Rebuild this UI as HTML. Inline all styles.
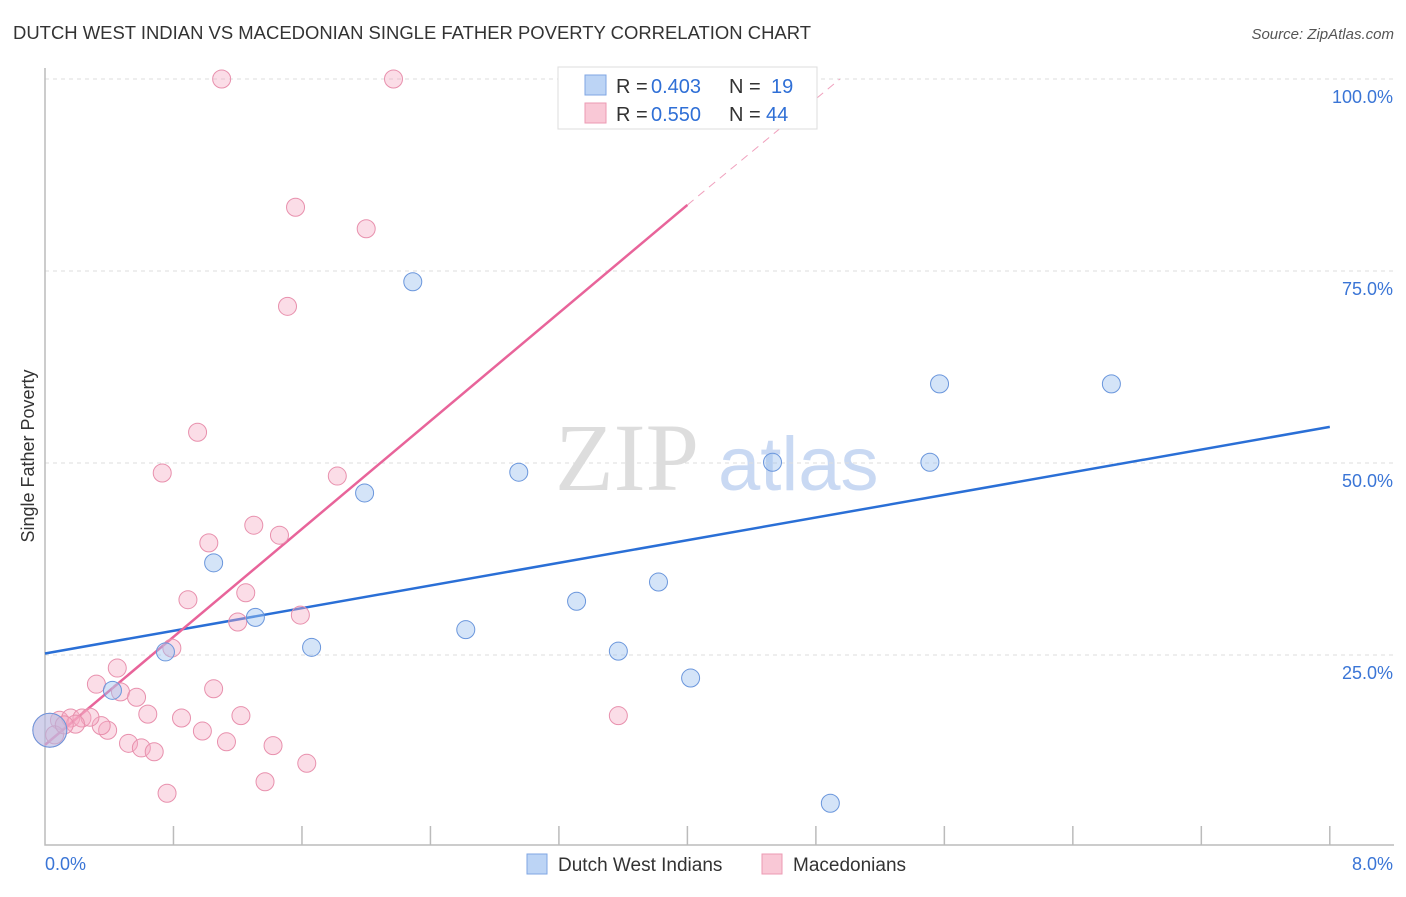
<!DOCTYPE html>
<html><head><meta charset="utf-8"><style>
body{margin:0;background:#fff;font-family:"Liberation Sans",sans-serif}
</style></head><body>
<svg id="chart" width="1406" height="892" xmlns="http://www.w3.org/2000/svg" font-family="Liberation Sans, sans-serif">
<text x="13" y="39" font-size="18" fill="#333" textLength="798" lengthAdjust="spacingAndGlyphs">DUTCH WEST INDIAN VS MACEDONIAN SINGLE FATHER POVERTY CORRELATION CHART</text>
<text x="1394" y="39" font-size="15" fill="#555" text-anchor="end" font-style="italic">Source: ZipAtlas.com</text>
<text x="555" y="490" font-size="96" fill="#ddd" font-family="Liberation Serif, serif">ZIP</text>
<text x="718" y="490" font-size="76" fill="#c9d9f3">atlas</text>
<text transform="translate(34,456) rotate(-90)" font-size="18" fill="#333" text-anchor="middle">Single Father Poverty</text>
<g id="grid"></g><g id="axes"></g><g id="lines"></g><g id="pts"></g>
<g>
<rect x="558" y="67" width="259" height="62" fill="#fff" stroke="#ddd"/>
<rect x="585" y="75" width="21" height="20" fill="#bcd4f5" stroke="#7fa6e3"/>
<rect x="585" y="103" width="21" height="20" fill="#f9c8d6" stroke="#ec9ab3"/>
<text x="616" y="93" font-size="20" fill="#333">R =</text>
<text x="651" y="93" font-size="20" fill="#2f6fd6">0.403</text>
<text x="729" y="93" font-size="20" fill="#333">N =</text>
<text x="771" y="93" font-size="20" fill="#2f6fd6">19</text>
<text x="616" y="121" font-size="20" fill="#333">R =</text>
<text x="651" y="121" font-size="20" fill="#2f6fd6">0.550</text>
<text x="729" y="121" font-size="20" fill="#333">N =</text>
<text x="766" y="121" font-size="20" fill="#2f6fd6">44</text>
</g>
<g>
<rect x="527" y="854" width="20" height="20" fill="#bcd4f5" stroke="#7fa6e3"/>
<text x="558" y="871" font-size="19" fill="#333">Dutch West Indians</text>
<rect x="762" y="854" width="20" height="20" fill="#f9c8d6" stroke="#ec9ab3"/>
<text x="793" y="871" font-size="19" fill="#333">Macedonians</text>
</g>
</svg>
<script>
const blueX=[2.29,1.05,1.31,1.66,0.75,0.42,1.99,2.95,2.62,3.31,3.57,3.82,4.02,4.53,5.51,5.57,6.64,4.89,0.03];
const blueY=[73.6,37.0,29.9,26.0,25.4,20.4,46.1,48.8,28.3,32.0,25.5,34.5,22.0,50.1,50.1,60.3,60.3,5.7,15.2];
const pinkX=[1.10,2.17,1.56,2.00,1.51,0.95,0.73,1.82,1.30,1.46,1.02,0.89,1.25,1.20,1.59,0.79,0.45,0.32,0.47,0.57,1.05,0.64,0.85,1.22,3.57,0.98,0.39,0.35,0.52,0.60,0.68,1.13,1.42,1.63,1.37,0.76,0.09,0.16,0.23,0.28,0.19,0.03,0.06,0.12];
const pinkY=[100,100,83.3,80.5,70.4,54.0,48.7,48.3,41.9,40.6,39.6,32.2,33.1,29.3,30.2,25.9,23.3,21.2,20.2,19.5,20.6,17.3,16.8,17.1,17.1,15.1,15.2,15.8,13.5,12.9,12.4,13.7,13.2,10.9,8.5,7.0,16.5,16.8,16.8,16.9,16.0,15.2,14.6,15.9];
const blueTrend=[0,25.2,8,54.7];
const pinkTrend=[0,13.3,4,83.6,4.95,100];
const yTicks=[25,50,75,100];
const yTickLabels=["25.0%","50.0%","75.0%","100.0%"];
const xTickCount=10;
const NS="http://www.w3.org/2000/svg";
const X=v=>45+v*160.6, Y=v=>847-v*7.68;
function mk(p,t,a){const e=document.createElementNS(NS,t);for(const k in a)e.setAttribute(k,a[k]);document.getElementById(p).appendChild(e);return e;}
yTicks.forEach((t,i)=>{
 const l=mk('grid','line',{x1:45,x2:1394,y1:Y(t),y2:Y(t),stroke:'#ddd','stroke-dasharray':'4,4'});
 
 
 const tx=mk('grid','text',{x:1393,y:Y(t)+24,'font-size':18,fill:'#3a75d6','text-anchor':'end'});
 tx.textContent=yTickLabels[i];
 
 
});
const ax=mk('axes','path',{d:'M45,68V845H1394',fill:'none',stroke:'#bbb','stroke-width':1.5});


for(let i=1;i<=xTickCount;i++){const t=mk('axes','line',{x1:X(i*0.8),x2:X(i*0.8),y1:826,y2:845,stroke:'#bbb','stroke-width':1.5});
 
 }
const x0=mk('axes','text',{x:45,y:870,'font-size':18,fill:'#3a75d6'});x0.textContent='0.0%';


const x1=mk('axes','text',{x:1393,y:870,'font-size':18,fill:'#3a75d6','text-anchor':'end'});x1.textContent='8.0%';


function dot(x,y,r,f,s,nm){const c=mk('pts','circle',{cx:X(x),cy:Y(y),r:r,fill:f,stroke:s,'stroke-width':1});
 
 }
pinkX.forEach((x,i)=>dot(x,pinkY[i],i==41?17:9,'rgba(246,170,195,0.4)','#e890ad','macedonian-point'));
blueX.forEach((x,i)=>dot(x,blueY[i],i==18?17:9,'rgba(160,195,240,0.45)','#6a96dc','dutch-west-indian-point'));
const bl=mk('lines','line',{x1:X(blueTrend[0]),y1:Y(blueTrend[1]),x2:X(blueTrend[2]),y2:Y(blueTrend[3]),stroke:'#2a6fd6','stroke-width':2.5});


const pl=mk('lines','line',{x1:X(pinkTrend[0]),y1:Y(pinkTrend[1]),x2:X(pinkTrend[2]),y2:Y(pinkTrend[3]),stroke:'#e8649a','stroke-width':2.5});


const pd=mk('lines','line',{x1:X(pinkTrend[2]),y1:Y(pinkTrend[3]),x2:X(pinkTrend[4]),y2:Y(pinkTrend[5]),stroke:'#f0a0bd','stroke-width':1,'stroke-dasharray':'8,6'});


</script>
</body></html>
